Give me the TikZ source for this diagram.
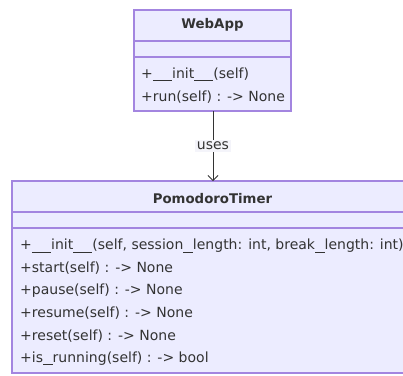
\documentclass[tikz,border=0pt]{standalone}
\usepackage{fontspec}
\setmainfont{DejaVu Sans}
\usetikzlibrary{arrows.meta}
\definecolor{classfill}{HTML}{ECECFF}
\definecolor{classborder}{HTML}{9370DB}
\definecolor{linecol}{HTML}{333333}
\definecolor{labelbg}{HTML}{F4F4FA}
\newcommand{\usc}{\rule[-2.6pt]{9.6pt}{0.85pt}}
\tikzset{
  classbox/.style={draw=classborder!85, fill=classfill, line width=1.3pt},
  divider/.style={draw=classborder!85, line width=1.3pt},
  title/.style={font=\fontsize{13.3}{15}\selectfont\bfseries, text=linecol, inner sep=0pt},
  member/.style={font=\fontsize{14}{16}\selectfont, text=linecol, anchor=west, inner sep=0pt},
  rel/.style={draw=linecol, line width=0.8pt, -{Straight Barb[length=5pt,width=10pt]}},
  rellabel/.style={fill=labelbg, font=\fontsize{14}{16}\selectfont, text=linecol, inner sep=1.5pt}
}
\begin{document}
\begin{tikzpicture}[x=1pt,y=-1pt]
\useasboundingbox (0,0) rectangle (403,375);
\clip (0,0) rectangle (403,375);
% WebApp
\draw[classbox] (134,10) rectangle (291,111);
\draw[divider] (134,41) -- (291,41);
\draw[divider] (134,57) -- (291,57);
\node[title] (wt) at (212.5,25) {WebApp};
\node[member] (w1) at (141,74) {+\usc\usc init\usc\usc(self)};
\node[member] (w2) at (141,97) {+run(self) : -> None};
\coordinate (wb) at (213,111);
% PomodoroTimer
\draw[classbox] (12,181) rectangle (420,373);
\draw[divider] (12,212) -- (420,212);
\draw[divider] (12,228) -- (420,228);
\node[title] (pt) at (212.5,199) {PomodoroTimer};
\node[member] (p1) at (20,246) {+\usc\usc init\usc\usc(self, session\usc length: int, break\usc length: int)};
\node[member] (p2) at (20,268.5) {+start(self) : -> None};
\node[member] (p3) at (20,291) {+pause(self) : -> None};
\node[member] (p4) at (20,313.5) {+resume(self) : -> None};
\node[member] (p5) at (20,336) {+reset(self) : -> None};
\node[member] (p6) at (20,358.5) {+is\usc running(self) : -> bool};
\coordinate (pt0) at (213,181);
% relation
\draw[rel] (wb) -- node[rellabel] (lbl) {uses} (pt0);
\end{tikzpicture}
\end{document}
